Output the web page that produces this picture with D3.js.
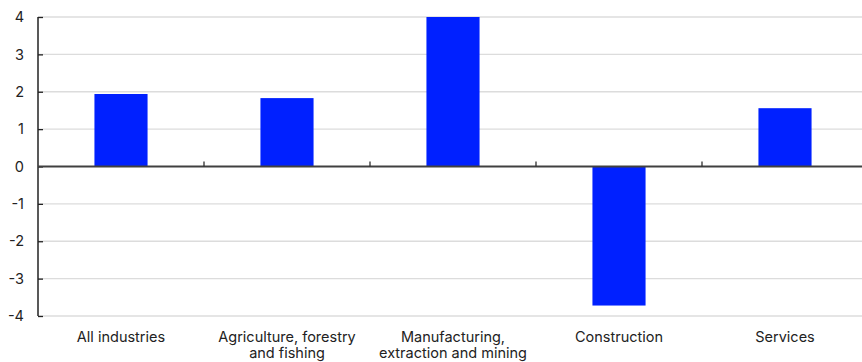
<!DOCTYPE html>
<html>
<head>
<meta charset="utf-8">
<script src="https://cdn.jsdelivr.net/npm/d3@7"></script>
<style>
  html, body { margin: 0; padding: 0; background: #fff; }
  svg { display: block; font-family: Inter, "Noto Sans", sans-serif; }
</style>
</head>
<body>
<svg id="chart" width="862" height="362"></svg>
<script>
// Change by industry
const categories = [
  ["All industries"],
  ["Agriculture, forestry", "and fishing"],
  ["Manufacturing,", "extraction and mining"],
  ["Construction"],
  ["Services"]
];
const values = [1.94, 1.83, 4.0, -3.72, 1.56];
const yTicks = [4, 3, 2, 1, 0, -1, -2, -3, -4];

const svg = d3.select("#chart");
const plotLeft = 38, plotRight = 868, plotTop = 17, plotBottom = 316;
const fontSize = 14.5;

const x = d3.scaleBand()
  .domain(d3.range(categories.length))
  .range([plotLeft, plotRight])
  .paddingInner(0).paddingOuter(0);

const y = d3.scaleLinear().domain([-4, 4]).range([plotBottom, plotTop]);

// horizontal gridlines
svg.append("g")
  .selectAll("line")
  .data(yTicks.filter(d => d !== 0))
  .join("line")
  .attr("x1", plotLeft).attr("x2", 862)
  .attr("y1", d => y(d)).attr("y2", d => y(d))
  .attr("stroke", "#dcdcdc").attr("stroke-width", 1.3);

// bars
const bw = x.bandwidth() * 0.32;
svg.append("g")
  .selectAll("rect")
  .data(values)
  .join("rect")
  .attr("x", (d, i) => x(i) + (x.bandwidth() - bw) / 2)
  .attr("width", bw)
  .attr("y", d => y(Math.max(0, d)))
  .attr("height", d => Math.abs(y(d) - y(0)))
  .attr("fill", "#0020ff");

// y axis
const yAxis = svg.append("g")
  .attr("transform", `translate(${plotLeft},0)`)
  .call(d3.axisLeft(y).tickValues(yTicks).tickSize(-5).tickPadding(14).tickFormat(d3.format("d")));
yAxis.select(".domain").attr("stroke", "#222").attr("stroke-width", 1.5).attr("d", `M0,${plotTop}V${plotBottom}`);
yAxis.selectAll(".tick line").attr("stroke", "#222").attr("stroke-width", 1.3);
yAxis.selectAll(".tick text")
  .attr("fill", "#222").attr("font-size", fontSize).attr("font-family", "Inter, sans-serif")
  .text(d => d < 0 ? "-" + Math.abs(d) : d);

// zero line with category separators
svg.append("line")
  .attr("x1", plotLeft).attr("x2", 862)
  .attr("y1", y(0)).attr("y2", y(0))
  .attr("stroke", "#404040").attr("stroke-width", 2);
svg.append("g")
  .selectAll("line")
  .data(d3.range(1, categories.length))
  .join("line")
  .attr("x1", i => x(i)).attr("x2", i => x(i))
  .attr("y1", y(0)).attr("y2", y(0) - 5)
  .attr("stroke", "#303030").attr("stroke-width", 1.3);

// category labels
const lab = svg.append("g")
  .selectAll("text")
  .data(categories)
  .join("text")
  .attr("text-anchor", "middle")
  .attr("font-size", fontSize)
  .attr("fill", "#222")
  .attr("transform", (d, i) => `translate(${x(i) + x.bandwidth() / 2},${plotBottom + 26})`);
lab.selectAll("tspan")
  .data(d => d)
  .join("tspan")
  .attr("x", 0)
  .attr("dy", (d, j) => j === 0 ? 0 : 16)
  .text(d => d);
</script>
</body>
</html>
